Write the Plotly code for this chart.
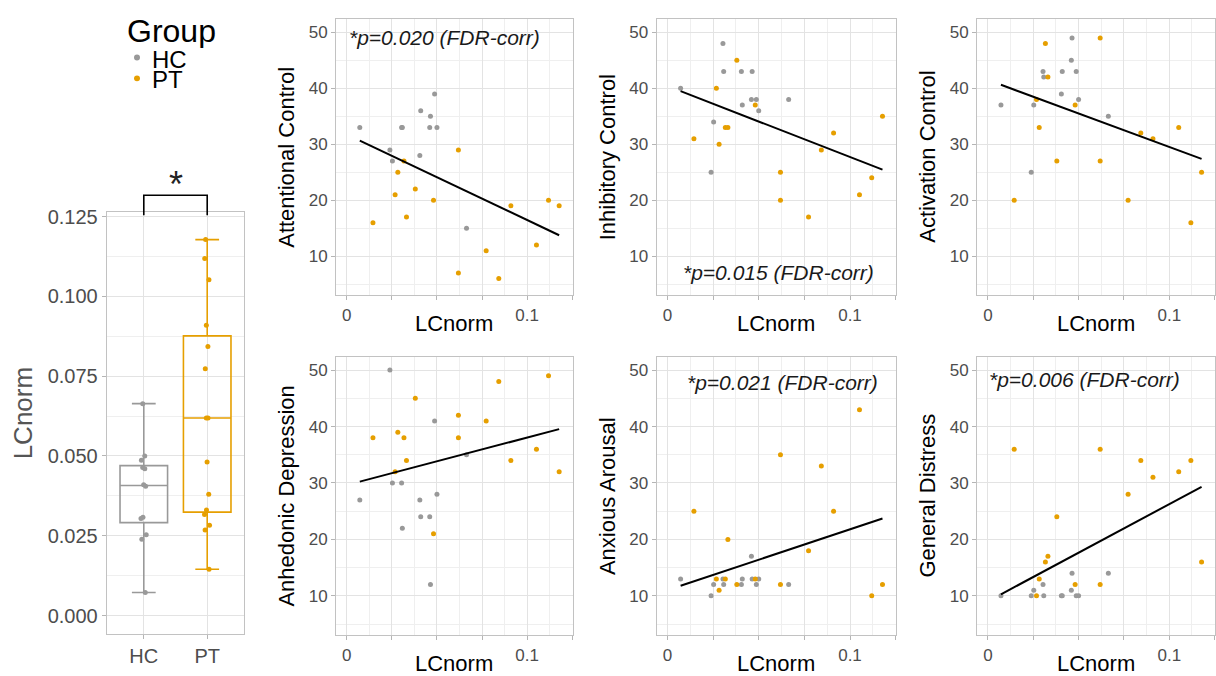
import numpy as np
import plotly.graph_objects as go

W, H = 1216, 676
FONT = "Liberation Sans, Arial, Helvetica, sans-serif"
HC_COL = "#999999"
PT_COL = "#E69F00"

# ---------------- data ----------------
hc_lc = [0.0072, 0.0239, 0.0253, 0.0304, 0.0308, 0.0405, 0.0410, 0.0460, 0.0464, 0.0487, 0.0500, 0.0664]
pt_lc = [0.0145, 0.0268, 0.0283, 0.0317, 0.0331, 0.0380, 0.0481, 0.0619, 0.0619, 0.0773, 0.0843, 0.0910, 0.1052, 0.1119, 0.1178]

measures = ["Attentional Control", "Inhibitory Control", "Activation Control",
            "Anhedonic Depression", "Anxious Arousal", "General Distress"]

attn_hc = [33, 29, 27, 33, 33, 28, 36, 33, 35, 39, 33, 15]
attn_pt = [16, 21, 25, 27, 17, 22, 20, 29, 7, 11, 6, 19, 12, 20, 19]
inhib_hc = [40, 25, 34, 48, 43, 43, 37, 38, 43, 38, 36, 38]
inhib_pt = [31, 40, 30, 33, 33, 45, 37, 25, 20, 17, 29, 32, 21, 24, 35]
activ_hc = [37, 25, 37, 43, 42, 39, 43, 45, 49, 43, 38, 35]
activ_pt = [20, 38, 33, 48, 42, 27, 37, 49, 27, 20, 32, 31, 33, 16, 25]
anhed_hc = [27, 50, 30, 30, 22, 27, 24, 24, 12, 41, 28, 35]
anhed_pt = [38, 32, 39, 38, 34, 45, 21, 42, 38, 41, 48, 34, 36, 49, 32]
anx_hc = [13, 10, 12, 13, 12, 12, 13, 17, 13, 12, 13, 12]
anx_pt = [25, 13, 11, 13, 20, 12, 13, 35, 12, 18, 33, 25, 43, 10, 12]
dist_hc = [10, 10, 11, 12, 10, 10, 10, 11, 14, 10, 10, 14]
dist_pt = [36, 10, 13, 16, 17, 24, 12, 36, 12, 28, 34, 31, 32, 34, 16]

scores_hc = [attn_hc, inhib_hc, activ_hc, anhed_hc, anx_hc, dist_hc]
scores_pt = [attn_pt, inhib_pt, activ_pt, anhed_pt, anx_pt, dist_pt]
p_labels = ["*p=0.020 (FDR-corr)", "*p=0.015 (FDR-corr)", None,
            None, "*p=0.021 (FDR-corr)", "*p=0.006 (FDR-corr)"]

x_tickvals = [0, 0.025, 0.05, 0.075, 0.1, 0.125]
x_ticktext = ["0", "", "", "", "0.1", ""]
y_tickvals = [10, 20, 30, 40, 50]
box_tickvals = [0.0, 0.025, 0.05, 0.075, 0.1, 0.125]
groups = ["HC", "PT"]

# ---------------- layout geometry (pixels) ----------------
box_x = (106.7, 244.3)
box_y = (207.7, 634.0)
box_xr = [-0.585, 1.585]
box_yr = [-0.0059, 0.1265]
cols = [(336.0, 572.5), (656.5, 896.0), (977.0, 1215.0)]
rows = [(13.3, 292.0), (354.0, 635.0)]
XR = [-0.006, 0.1252]
YR = [3.0, 52.35]
p_pos = [(347, 31.7), (680.7, 269.3), None, None, (685, 380), (987, 376.7)]


def fx(px):
    return px / W


def fy(py):
    return 1 - py / H


fig = go.Figure()

common = dict(showline=True, linecolor="#c2c2c2", linewidth=1, mirror=True,
              showgrid=True, gridcolor="#e3e3e3", gridwidth=1, zeroline=False,
              ticks="outside", ticklen=4, tickwidth=1, tickcolor="#b5b5b5")

# ---------------- box plot ----------------
for g, vals, col in zip(groups, [hc_lc, pt_lc], [HC_COL, PT_COL]):
    v = np.array(vals)
    q1, med, q3 = np.percentile(v, [25, 50, 75])
    iqr = q3 - q1
    lo = v[v >= q1 - 1.5 * iqr].min()
    hi = v[v <= q3 + 1.5 * iqr].max()
    fig.add_trace(go.Box(
        x=[g], y=[list(v)], q1=[q1], median=[med], q3=[q3],
        lowerfence=[lo], upperfence=[hi],
        boxpoints="all", jitter=0.15, pointpos=0, width=0.75,
        line=dict(color=col, width=1.6), fillcolor="rgba(255,255,255,0)",
        marker=dict(color=col, size=5),
        xaxis="x", yaxis="y", showlegend=False))

layout_axes = {}
layout_axes["xaxis"] = dict(common, domain=[fx(box_x[0]), fx(box_x[1])], anchor="y",
                            type="category", categoryorder="array", categoryarray=groups,
                            range=box_xr,
                            tickfont=dict(size=20, color="#4d4d4d", family=FONT))
layout_axes["yaxis"] = dict(common, domain=[fy(box_y[1]), fy(box_y[0])], anchor="x",
                            range=box_yr, tickvals=box_tickvals, tickformat=".3f",
                            minor=dict(showgrid=True, gridcolor="#efefef", gridwidth=0.7,
                                       dtick=0.0125, tick0=0),
                            tickfont=dict(size=20, color="#4d4d4d", family=FONT))

annotations = []
shapes = []

# ---------------- scatter panels ----------------
for i, name in enumerate(measures):
    n = i + 2
    r, c = divmod(i, 3)
    xa, ya = f"x{n}", f"y{n}"
    hcx, hcy = np.array(hc_lc), np.array(scores_hc[i])
    ptx, pty = np.array(pt_lc), np.array(scores_pt[i])
    fig.add_trace(go.Scatter(x=hcx, y=hcy, mode="markers", xaxis=xa, yaxis=ya,
                             marker=dict(color=HC_COL, size=5), showlegend=False))
    fig.add_trace(go.Scatter(x=ptx, y=pty, mode="markers", xaxis=xa, yaxis=ya,
                             marker=dict(color=PT_COL, size=5), showlegend=False))
    allx = np.concatenate([hcx, ptx])
    ally = np.concatenate([hcy, pty])
    slope, icpt = np.polyfit(allx, ally, 1)
    lx = np.array([allx.min(), allx.max()])
    fig.add_trace(go.Scatter(x=lx, y=slope * lx + icpt, mode="lines", xaxis=xa, yaxis=ya,
                             line=dict(color="black", width=2), showlegend=False))

    x0, x1 = cols[c]
    y0, y1 = rows[r]
    layout_axes[f"xaxis{n}"] = dict(common, domain=[fx(x0), fx(x1)], anchor=ya, range=XR,
                                    tickvals=x_tickvals, ticktext=x_ticktext,
                                    minor=dict(showgrid=True, gridcolor="#efefef", gridwidth=0.7,
                                               dtick=0.0125, tick0=0),
                                    tickfont=dict(size=17, color="#4d4d4d", family=FONT))
    layout_axes[f"yaxis{n}"] = dict(common, domain=[fy(y1), fy(y0)], anchor=xa, range=YR,
                                    tickvals=y_tickvals,
                                    minor=dict(showgrid=True, gridcolor="#efefef", gridwidth=0.7,
                                               dtick=5, tick0=0),
                                    tickfont=dict(size=17, color="#4d4d4d", family=FONT))
    # axis titles
    annotations.append(dict(text=name, x=fx(x0 - 49.5), y=fy((y0 + y1) / 2), xref="paper", yref="paper",
                            showarrow=False, textangle=-90, xanchor="center", yanchor="middle",
                            font=dict(size=22, color="black", family=FONT)))
    annotations.append(dict(text="LCnorm", x=fx((x0 + x1) / 2), y=fy(y1 + 28.5), xref="paper", yref="paper",
                            showarrow=False, xanchor="center", yanchor="middle",
                            font=dict(size=22, color="black", family=FONT)))
    if p_labels[i]:
        px_, py_ = p_pos[i]
        annotations.append(dict(text=f"<i>{p_labels[i]}</i>", x=fx(px_), y=fy(py_), xref="paper",
                                yref="paper", showarrow=False, xanchor="left", yanchor="middle",
                                font=dict(size=21, color="#1a1a1a", family=FONT)))

# box y title
annotations.append(dict(text="LCnorm", x=fx(23), y=fy(411), xref="paper", yref="paper",
                        showarrow=False, textangle=-90, xanchor="center", yanchor="middle",
                        font=dict(size=26, color="#555555", family=FONT)))

# significance bracket
def box_px(pos):
    return box_x[0] + (pos - box_xr[0]) / (box_xr[1] - box_xr[0]) * (box_x[1] - box_x[0])

bx0, bx1 = box_px(0), box_px(1)
shapes.append(dict(type="path", xref="paper", yref="paper",
                   path=f"M {fx(bx0)} {fy(211)} L {fx(bx0)} {fy(191)} L {fx(bx1)} {fy(191)} L {fx(bx1)} {fy(211)}",
                   line=dict(color="black", width=1.6)))
annotations.append(dict(text="*", x=fx((bx0 + bx1) / 2), y=fy(180), xref="paper", yref="paper",
                        showarrow=False, xanchor="center", yanchor="middle",
                        font=dict(size=36, color="#222222", family=FONT)))

# legend (manual)
annotations.append(dict(text="Group", x=fx(125), y=fy(25), xref="paper", yref="paper",
                        showarrow=False, xanchor="left", yanchor="middle", height=34,
                        font=dict(size=32, color="black", family=FONT)))
for g, col, cy in [("HC", HC_COL, 52), ("PT", PT_COL, 73)]:
    annotations.append(dict(text=g, x=fx(150), y=fy(cy + 1), xref="paper", yref="paper",
                            showarrow=False, xanchor="left", yanchor="middle", height=20,
                            font=dict(size=24, color="black", family=FONT)))
    shapes.append(dict(type="circle", xref="paper", yref="paper",
                       x0=fx(134), x1=fx(140), y0=fy(cy + 3), y1=fy(cy - 3),
                       fillcolor=col, line=dict(width=0)))

fig.update_layout(
    width=W, height=H, margin=dict(l=0, r=0, t=0, b=0),
    paper_bgcolor="white", plot_bgcolor="white",
    font=dict(family=FONT, color="#4d4d4d"),
    annotations=annotations, shapes=shapes, showlegend=False,
    **layout_axes)

fig.write_html("out.html", config={"displayModeBar": False},
               post_script="document.body.style.margin='0';document.body.style.padding='0';")
